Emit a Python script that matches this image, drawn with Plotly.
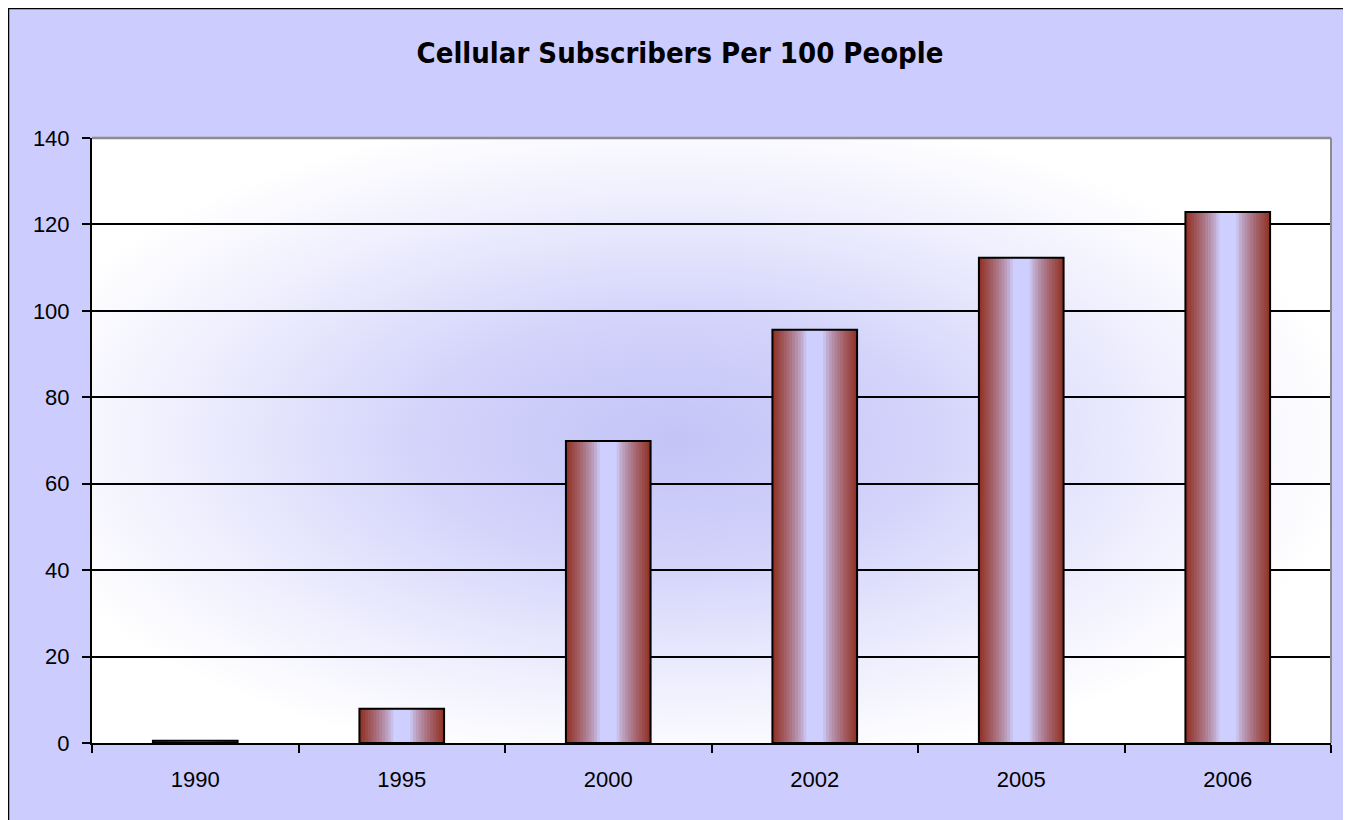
import base64
import numpy as np
import plotly.graph_objects as go

# data
years = ["1990", "1995", "2000", "2002", "2005", "2006"]
subscribers = [0.5, 7.9, 69.9, 95.6, 112.3, 122.9]
y_ticks = [0, 20, 40, 60, 80, 100, 120, 140]

# page has an 8px body margin, so the figure is drawn 8px in from the corner
OFF = 8
W, H = 1351 - OFF, 820 - OFF
# plot area in page pixels
PL, PR, PT, PB = 92 - OFF, 1331 - OFF, 138 - OFF, 743 - OFF


def px_x(px):
    return (px - OFF - PL) / (PR - PL)


def px_y(py):
    return (PB - (py - OFF)) / (PB - PT)


# colours
lavender = "#CCCCFF"
edge = np.array([145, 48, 36])
center = np.array([206, 206, 255])

# radial background for the plot area (svg data uri)
svg = """<svg xmlns='http://www.w3.org/2000/svg' width='1239' height='605' viewBox='0 0 100 100' preserveAspectRatio='none'>
<defs><radialGradient id='g' cx='0.47' cy='0.5' r='0.55'>
<stop offset='0' stop-color='#C4C4F7'/>
<stop offset='0.35' stop-color='#D2D2FB'/>
<stop offset='0.75' stop-color='#F0F0FE'/>
<stop offset='1' stop-color='#FFFFFF'/>
</radialGradient></defs>
<rect x='0' y='0' width='100' height='100' fill='url(#g)'/></svg>"""
bg_src = "data:image/svg+xml;base64," + base64.b64encode(svg.encode()).decode()

fig = go.Figure()

# bars drawn as overlapping vertical strips to fake the horizontal gradient
bw = 0.41
n_strips = 30
step = bw / n_strips
for k in range(n_strips):
    u = (k + 0.5) / n_strips
    t = abs(u - 0.5) * 2
    w = min(max((t - 0.2) / 0.8, 0.0), 1.0) ** 0.75
    c = center * (1 - w) + edge * w
    fig.add_trace(go.Bar(
        x=years, y=subscribers,
        width=min(3 * step, bw - k * step), offset=-bw / 2 + k * step,
        marker=dict(color=f"rgb({int(c[0])},{int(c[1])},{int(c[2])})", line=dict(width=0)),
        showlegend=False, hoverinfo="skip",
    ))

# outline
fig.add_trace(go.Bar(
    x=years, y=subscribers, width=bw, offset=-bw / 2,
    marker=dict(color="rgba(0,0,0,0)", line=dict(color="black", width=2)),
    showlegend=False, name="Subscribers",
))

fig.update_layout(
    width=W, height=H,
    margin=dict(l=PL, r=W - PR, t=PT, b=H - PB),
    paper_bgcolor="white",
    plot_bgcolor="white",
    barmode="overlay",
    font=dict(family="Liberation Sans, Arial, sans-serif", size=22, color="black"),
    title=dict(
        text="<b>Cellular Subscribers Per 100 People</b>",
        x=(680 - OFF) / W, y=1 - (53 - OFF) / H, xanchor="center", yanchor="middle",
        font=dict(family="DejaVu Sans Condensed, Arial Narrow, sans-serif",
                  size=29, color="black"),
    ),
    xaxis=dict(
        type="category", range=[-0.5, 5.5],
        showgrid=False, showline=True, linecolor="black", linewidth=2,
        ticks="outside", tickson="boundaries", ticklen=8, tickwidth=1.5, tickcolor="black",
        ticklabelstandoff=16,
    ),
    yaxis=dict(
        range=[0, 140], tickvals=y_ticks,
        showgrid=True, gridcolor="black", gridwidth=2,
        showline=True, linecolor="black", linewidth=2, zeroline=False,
        ticks="outside", ticklen=8, tickwidth=1.5, tickcolor="black",
        ticklabelstandoff=8,
    ),
    images=[dict(
        source=bg_src, xref="x domain", yref="y domain",
        x=0, y=1, sizex=1, sizey=1, xanchor="left", yanchor="top",
        sizing="stretch", layer="below",
    )],
    shapes=[
        # outer chart frame
        dict(type="rect", xref="paper", yref="paper", layer="below",
             x0=px_x(8), x1=px_x(1349), y0=px_y(835), y1=px_y(8),
             fillcolor=lavender, line=dict(color="black", width=2.5)),
        # grey plot-area border on top and right
        dict(type="line", xref="x domain", yref="y domain", layer="above",
             x0=0, x1=1, y0=1, y1=1, line=dict(color="#8C8C8C", width=2.5)),
        dict(type="line", xref="x domain", yref="y domain", layer="above",
             x0=1, x1=1, y0=0, y1=1, line=dict(color="#8C8C8C", width=2)),
    ],
)

fig.write_html("out.html")
